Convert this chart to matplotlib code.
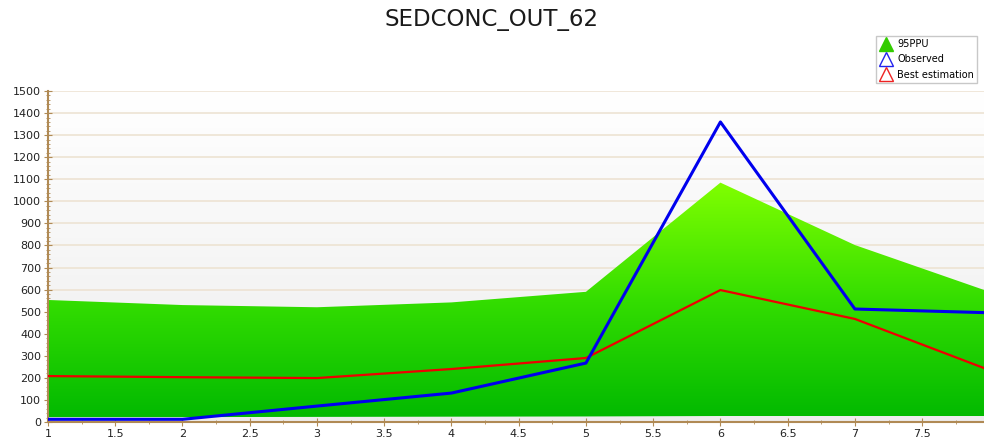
import matplotlib
matplotlib.use('Agg')
import matplotlib.pyplot as plt
import numpy as np
from matplotlib.lines import Line2D
from matplotlib.patches import Polygon
from matplotlib.ticker import MultipleLocator
from matplotlib.colors import LinearSegmentedColormap

FIGURE_XSIZE = 9.84
FIGURE_YSIZE = 4.40

SPINE_RGB = '#B08A55'
GRID_RGB = '#EDE3D3'

# data
months = [1, 2, 3, 4, 5, 6, 7, 8]
ppu_upper = [553, 530, 520, 542, 590, 1085, 802, 590]
ppu_lower = [22, 22, 23, 24, 25, 27, 27, 27]
observed = [12, 12, 72, 131, 267, 1360, 512, 495]
best_estimation = [208, 203, 199, 240, 290, 598, 467, 235]

x_min, x_max = 1, 7.96
y_min, y_max = 0, 1500

figure = plt.figure(figsize=(FIGURE_XSIZE, FIGURE_YSIZE), dpi=100, facecolor='white')
axes = figure.add_axes([0.0488, 0.041, 1 - 0.0488, 0.752])

# background gradient (white to light grey)
bg_cmap = LinearSegmentedColormap.from_list('bg', ['#EDEDED', '#FFFFFF'])
axes.imshow(np.linspace(0, 1, 256).reshape(-1, 1), cmap=bg_cmap, aspect='auto',
            extent=[x_min, x_max, y_min, y_max], origin='lower', zorder=0)

for yv in range(100, 1501, 100):
    axes.axhline(yv, color=GRID_RGB, linewidth=1.2, zorder=1)

# 95PPU band with vertical green gradient
verts = list(zip(months, ppu_upper)) + list(zip(months[::-1], ppu_lower[::-1]))
band = Polygon(verts, closed=True, facecolor='none', edgecolor='none')
axes.add_patch(band)
green_cmap = LinearSegmentedColormap.from_list('green', ['#00B800', '#33DD00', '#80FF00'])
img = axes.imshow(np.linspace(0, 1, 256).reshape(-1, 1), cmap=green_cmap, aspect='auto',
                  extent=[x_min, x_max, y_min, max(ppu_upper)], origin='lower', zorder=2)
img.set_clip_path(band)

axes.plot(months, best_estimation, color='#EE0000', linewidth=1.6, zorder=3)
axes.plot(months, observed, color='#0000EE', linewidth=2.2, zorder=4)

axes.set_xlim(x_min, x_max)
axes.set_ylim(y_min, y_max)
axes.xaxis.set_major_locator(MultipleLocator(0.5))
axes.xaxis.set_minor_locator(MultipleLocator(0.25))
axes.yaxis.set_major_locator(MultipleLocator(100))
axes.yaxis.set_minor_locator(MultipleLocator(20))
axes.xaxis.set_major_formatter(matplotlib.ticker.FuncFormatter(lambda v, p: f'{v:g}'))

for side in ['top', 'right']:
    axes.spines[side].set_visible(False)
for side in ['left', 'bottom']:
    axes.spines[side].set_color(SPINE_RGB)
    axes.spines[side].set_linewidth(1.5)

axes.tick_params(which='major', direction='inout', length=6, color=SPINE_RGB,
                 labelsize=8, labelcolor='#222222', pad=2)
axes.tick_params(which='minor', direction='inout', length=3, color=SPINE_RGB)

figure.text(0.5, 0.955, 'SEDCONC_OUT_62', ha='center', va='center', fontsize=16.5,
            color='#1a1a1a')

handles = [
    Line2D([0], [0], marker='^', color='none', markerfacecolor='#33CC00',
           markeredgecolor='#33CC00', markersize=10),
    Line2D([0], [0], marker='^', color='none', markerfacecolor='none',
           markeredgecolor='#2222EE', markersize=10),
    Line2D([0], [0], marker='^', color='none', markerfacecolor='none',
           markeredgecolor='#EE2222', markersize=10),
]
legend = figure.legend(handles, ['95PPU', 'Observed', 'Best estimation'],
                       loc='upper left', bbox_to_anchor=(0.890, 0.918), fontsize=7,
                       frameon=True, fancybox=False, edgecolor='#BBBBBB',
                       handlelength=1.6, handletextpad=0.3, labelspacing=0.55,
                       borderpad=0.3, borderaxespad=0)

figure.savefig('out.png', dpi=100)
